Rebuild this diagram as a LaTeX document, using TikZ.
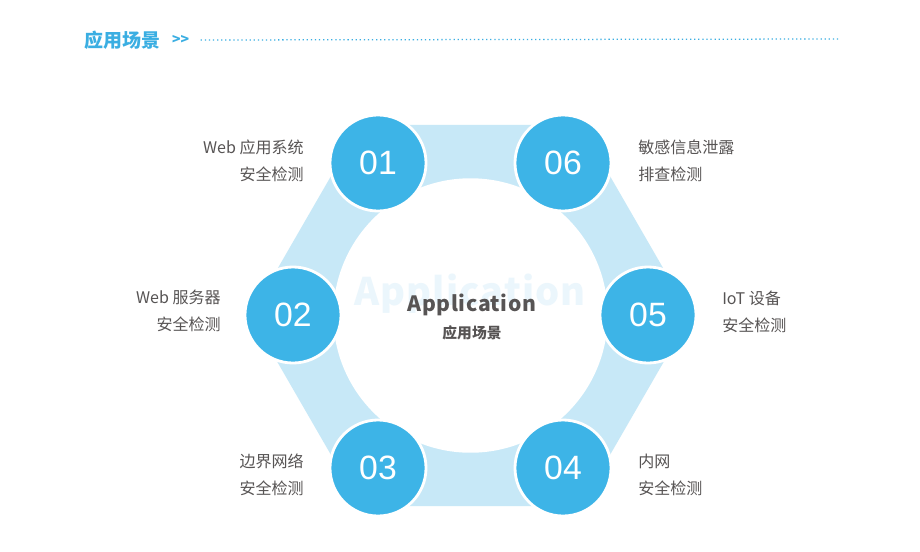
\documentclass[tikz,border=0pt]{standalone}
\usepackage{fontspec}
\setmainfont{Noto Sans CJK SC}
\newfontfamily\numfont{Liberation Sans}
\newfontfamily\medfont[LetterSpace=3]{Noto Sans CJK SC}
\usetikzlibrary{positioning}
\definecolor{hblue}{HTML}{3DB4E7}
\definecolor{hband}{HTML}{C7E8F7}
\definecolor{hmark}{HTML}{EBF6FC}
\definecolor{htext}{HTML}{575454}
\definecolor{htitle}{HTML}{3AAEE2}
\tikzset{
  num/.style={circle, fill=hblue, draw=white, line width=2pt, minimum size=2.4cm,
              inner sep=0pt, text=white, font=\numfont\fontsize{24}{24}\selectfont},
  lbl/.style={inner sep=0pt, text=htext, font=\fontsize{11.4}{19.5}\selectfont},
  lbll/.style={lbl, align=right, anchor=east},
  lblr/.style={lbl, align=left, anchor=west},
  band/.style={fill=hband},
}

\begin{document}
\begin{tikzpicture}[x=0.025cm, y=-0.025cm]
  \useasboundingbox[fill=white] (0,0) rectangle (920,552);
  % title bar
  \node[inner sep=0pt, anchor=west, text=htitle, font=\fontsize{13.5}{13.5}\selectfont\bfseries]
    (title) at (84,40) {应用场景};
  \node[inner sep=0pt, anchor=west, text=htitle, font=\fontsize{10}{10}\selectfont\bfseries,
    right=8pt of title] (more) {>{}>};
  \coordinate (rule) at (838,39);
  \draw[htitle, line width=0.9pt, dash pattern=on 0.9pt off 2pt] (more.east) ++(8pt,0) -- (rule);

  % hexagon band
  \coordinate (c) at (470.5,315.5);
  \fill[band] (c) ++(0:220) -- ++(120:220) -- ++(180:220) -- ++(240:220)
    -- ++(300:220) -- ++(0:220) -- cycle;
  \fill[white] (c) circle[radius=3.43cm];

  % centre
  \node[inner sep=0pt, text=hmark, font=\medfont\bfseries\fontsize{27}{27}\selectfont] (mark) at (470,294) {Application};
  \node[inner sep=0pt, text=htext, font=\medfont\bfseries\fontsize{15}{15}\selectfont] (app) at (472,305) {Application};
  \node[inner sep=0pt, text=htext, font=\fontsize{10.5}{10.5}\selectfont\bfseries] (appcn) at (472,333) {应用场景};

  % six steps
  \node[num] (s1) at (378,163) {01};
  \node[num] (s2) at (293,315) {02};
  \node[num] (s3) at (378,468) {03};
  \node[num] (s4) at (563,468) {04};
  \node[num] (s5) at (648,315) {05};
  \node[num] (s6) at (563,163) {06};

  \node[lbll] (l1) at (304,161) {Web 应用系统\\安全检测};
  \node[lbll] (l2) at (221,311) {Web 服务器\\安全检测};
  \node[lbll] (l3) at (304,475) {边界网络\\安全检测};
  \node[lblr] (l4) at (638,475) {内网\\安全检测};
  \node[lblr] (l5) at (722,312) {IoT 设备\\安全检测};
  \node[lblr] (l6) at (638,161) {敏感信息泄露\\排查检测};
\end{tikzpicture}
\end{document}
